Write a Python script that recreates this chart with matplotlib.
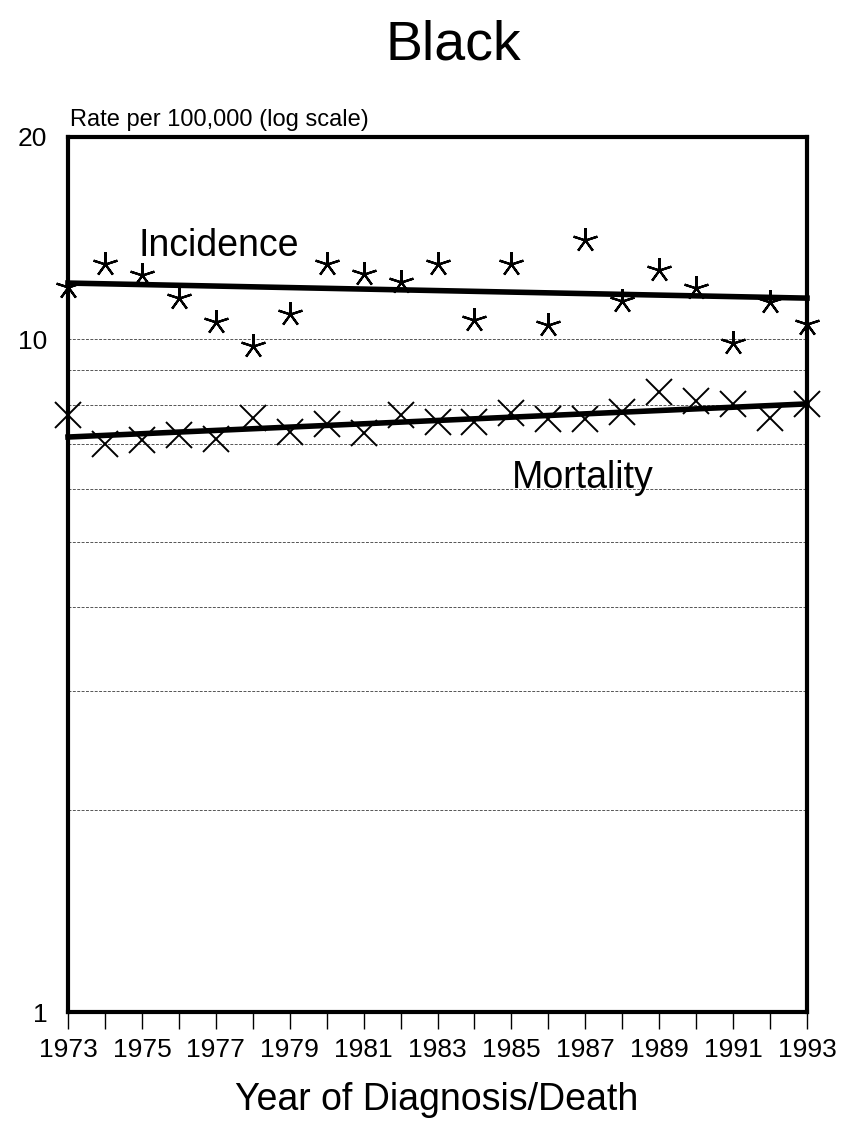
import matplotlib
matplotlib.use("Agg")
import matplotlib.pyplot as plt
import numpy as np

plt.rcParams['font.family'] = ['Liberation Sans', 'DejaVu Sans']

years = list(range(1973, 1994))
incidence = [11.97, 12.95, 12.47, 11.52, 10.61, 9.78, 10.91, 12.95, 12.51, 12.17,
             12.95, 10.69, 12.95, 10.51, 14.05, 11.41, 12.68, 11.93, 9.88, 11.37, 10.54]
mortality = [7.72, 6.99, 7.09, 7.21, 7.11, 7.64, 7.29, 7.49, 7.27, 7.72,
             7.54, 7.54, 7.77, 7.62, 7.62, 7.80, 8.35, 8.10, 8.02, 7.64, 8.02]
inc_trend_ends = [12.13, 11.52]
mort_trend_ends = [7.16, 8.02]
trend_years = [1973, 1993]
grid_values = [2, 3, 4, 5, 6, 7, 8, 9, 10]

fig = plt.figure(figsize=(8.42, 11.28), dpi=100)
W, H = 842, 1128
ax = fig.add_axes([68 / W, 1 - 1012 / H, (807 - 68) / W, (1012 - 137) / H])
ax.set_yscale('log')
ax.set_ylim(1, 20)
ax.set_xlim(1973, 1993)

for g in grid_values:
    ax.axhline(g, color='#555555', lw=0.7, ls=(0, (3, 1.5)), zorder=1)

# trend lines (log-linear)
ty = np.linspace(trend_years[0], trend_years[1], 50)
def loglin(ends):
    a, b = np.log(ends[0]), np.log(ends[1])
    return np.exp(a + (b - a) * (ty - trend_years[0]) / (trend_years[1] - trend_years[0]))
ax.plot(ty, loglin(inc_trend_ends), color='black', lw=4, zorder=3, clip_on=False)
ax.plot(ty, loglin(mort_trend_ends), color='black', lw=4, zorder=3, clip_on=False)

ax.plot(years, incidence, ls='none', marker=(5, 2, 0), ms=18, mew=1.6,
        color='black', zorder=4, clip_on=False)
ax.plot(years, mortality, ls='none', marker='x', ms=19, mew=1.4,
        color='black', zorder=4, clip_on=False)

ax.text(1974.9, 13.77, 'Incidence', fontsize=27, ha='left', va='center')
ax.text(1985.0, 6.22, 'Mortality', fontsize=27, ha='left', va='center')

for s in ax.spines.values():
    s.set_linewidth(3)
    s.set_zorder(5)

ax.set_xticks(range(1973, 1994))
ax.set_xticklabels([str(y) if (y - 1973) % 2 == 0 else '' for y in range(1973, 1994)],
                   fontsize=19)
ax.tick_params(axis='x', direction='out', length=12, width=1, pad=7)
ax.set_yticks([1, 10, 20])
ax.set_yticklabels(['1', '10', '20'], fontsize=19)
ax.yaxis.set_minor_locator(matplotlib.ticker.NullLocator())
ax.tick_params(axis='y', length=0, pad=15)

fig.text(70 / W, 1 - 120 / H, 'Rate per 100,000 (log scale)', fontsize=17,
         ha='left', va='center')
fig.text(453 / W, 1 - 46 / H, 'Black', fontsize=40,
         ha='center', va='center')
fig.text(437 / W, 1 - 1100 / H, 'Year of Diagnosis/Death', fontsize=27,
         ha='center', va='center')

fig.savefig('out.png', dpi=100)
